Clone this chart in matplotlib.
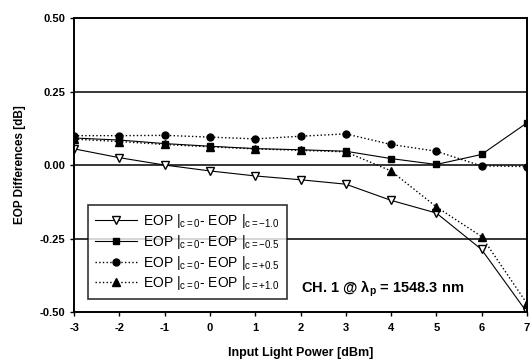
#!/usr/bin/env python
import numpy as np
from matplotlib import pyplot as plt

plt.rcParams['font.family'] = ['Liberation Sans', 'DejaVu Sans']
plt.rcParams['mathtext.fontset'] = 'custom'
plt.rcParams['mathtext.rm'] = 'Liberation Sans'
plt.rcParams['mathtext.it'] = 'Liberation Sans'
plt.rcParams['mathtext.bf'] = 'Liberation Sans:bold'
plt.rcParams['axes.unicode_minus'] = False

power = [-3, -2, -1, 0, 1, 2, 3, 4, 5, 6, 7]
diff_m10 = [0.055, 0.025, 0.0, -0.02, -0.037, -0.05, -0.065, -0.12, -0.163, -0.287, -0.50]
diff_m05 = [0.092, 0.085, 0.073, 0.064, 0.056, 0.052, 0.047, 0.022, 0.002, 0.036, 0.143]
diff_p05 = [0.100, 0.100, 0.101, 0.095, 0.089, 0.098, 0.106, 0.070, 0.047, -0.003, -0.005]
diff_p10 = [0.088, 0.080, 0.070, 0.062, 0.055, 0.050, 0.045, -0.020, -0.142, -0.243, -0.47]

labels = [
    r'EOP |$_{\mathrm{c=0}}$- EOP |$_{\mathrm{c=-1.0}}$',
    r'EOP |$_{\mathrm{c=0}}$- EOP |$_{\mathrm{c=-0.5}}$',
    r'EOP |$_{\mathrm{c=0}}$- EOP |$_{\mathrm{c=+0.5}}$',
    r'EOP |$_{\mathrm{c=0}}$- EOP |$_{\mathrm{c=+1.0}}$',
]

fig = plt.figure(figsize=(5.3, 3.6), dpi=100)
ax = fig.add_axes([0.140, 0.133, 0.854, 0.817])

ax.plot(power, diff_m10, 'k-', marker='v', mfc='white', mec='k', ms=5.5, lw=0.8, label=labels[0])
ax.plot(power, diff_m05, 'k-', marker='s', ms=5, lw=0.8, label=labels[1])
ax.plot(power, diff_p05, 'k:', marker='o', ms=5, lw=1.0, label=labels[2])
ax.plot(power, diff_p10, 'k:', marker='^', ms=5.5, lw=1.0, label=labels[3])

for yv in [0.25, 0.0, -0.25]:
    ax.axhline(yv, color='k', lw=1.1, zorder=1)

ax.set_xlim(-3, 7)
ax.set_ylim(-0.5, 0.5)
ax.set_xticks(range(-3, 8))
ax.set_yticks([-0.5, -0.25, 0.0, 0.25, 0.5])
ax.set_yticklabels(['-0.50', '-0.25', '0.00', '0.25', '0.50'])
ax.tick_params(direction='out', length=3, width=1, labelsize=8)
ax.tick_params(axis='x', pad=5)
for lbl in ax.get_xticklabels() + ax.get_yticklabels():
    lbl.set_fontweight('bold')
for sp in ax.spines.values():
    sp.set_linewidth(1.4)

ax.set_xlabel('Input Light Power [dBm]', fontsize=9, fontweight='bold', labelpad=10)
ax.set_ylabel('EOP Differences [dB]', fontsize=8.5, fontweight='bold', labelpad=10)

leg = ax.legend(loc='lower left', bbox_to_anchor=(0.015, 0.02), fontsize=10,
                frameon=True, fancybox=False, edgecolor='k', handlelength=3,
                labelspacing=0.2, borderpad=0.5, handletextpad=0.5)
leg.get_frame().set_linewidth(1.2)

ax.text(2.0, -0.42, r'CH. 1 @ $\mathbf{\lambda_{p}}$ = 1548.3 nm', fontsize=10.5,
        fontweight='bold', va='center', ha='left')

fig.savefig('out.png')
plt.close(fig)
